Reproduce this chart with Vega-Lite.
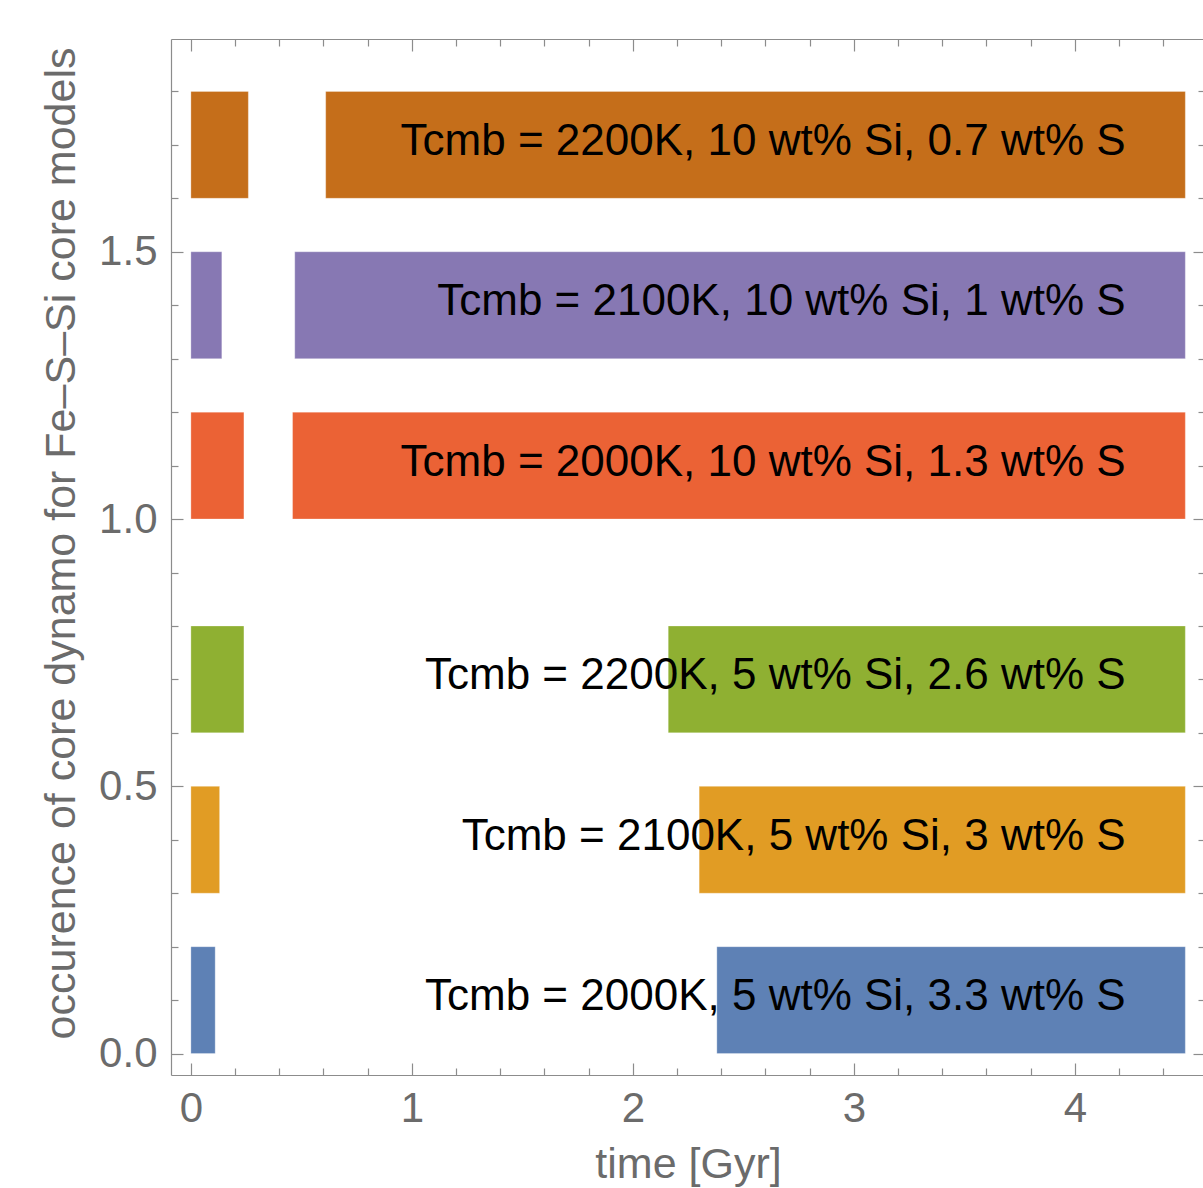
{
  "$schema": "https://vega.github.io/schema/vega-lite/v6.json",
  "width": 1034,
  "height": 1036,
  "autosize": {"type": "none"},
  "padding": {"left": 171, "top": 39, "right": 0, "bottom": 113},
  "background": "white",
  "config": {
    "view": {"stroke": null},
    "font": "Liberation Sans",
    "axis": {"grid": false, "domainColor": "#8c8c8c", "tickColor": "#8c8c8c", "domainWidth": 1.2, "tickWidth": 1.2, "labelColor": "#6b6b6b", "titleColor": "#6b6b6b", "labelFont": "Liberation Sans", "titleFont": "Liberation Sans", "titleFontWeight": "normal"}
  },
  "datasets": {
    "bars": [
      {"model": "2000K, 5 wt% Si", "start": 0, "end": 0.11, "y0": 0.0, "y1": 0.2},
      {"model": "2000K, 5 wt% Si", "start": 2.38, "end": 4.5, "y0": 0.0, "y1": 0.2},
      {"model": "2100K, 5 wt% Si", "start": 0, "end": 0.13, "y0": 0.3, "y1": 0.5},
      {"model": "2100K, 5 wt% Si", "start": 2.3, "end": 4.5, "y0": 0.3, "y1": 0.5},
      {"model": "2200K, 5 wt% Si", "start": 0, "end": 0.24, "y0": 0.6, "y1": 0.8},
      {"model": "2200K, 5 wt% Si", "start": 2.16, "end": 4.5, "y0": 0.6, "y1": 0.8},
      {"model": "2000K, 10 wt% Si", "start": 0, "end": 0.24, "y0": 1.0, "y1": 1.2},
      {"model": "2000K, 10 wt% Si", "start": 0.46, "end": 4.5, "y0": 1.0, "y1": 1.2},
      {"model": "2100K, 10 wt% Si", "start": 0, "end": 0.14, "y0": 1.3, "y1": 1.5},
      {"model": "2100K, 10 wt% Si", "start": 0.47, "end": 4.5, "y0": 1.3, "y1": 1.5},
      {"model": "2200K, 10 wt% Si", "start": 0, "end": 0.26, "y0": 1.6, "y1": 1.8},
      {"model": "2200K, 10 wt% Si", "start": 0.61, "end": 4.5, "y0": 1.6, "y1": 1.8}
    ],
    "labels": [
      {"label": "Tcmb = 2000K, 5 wt% Si, 3.3 wt% S", "ymid": 0.1},
      {"label": "Tcmb = 2100K, 5 wt% Si, 3 wt% S", "ymid": 0.4},
      {"label": "Tcmb = 2200K, 5 wt% Si, 2.6 wt% S", "ymid": 0.7},
      {"label": "Tcmb = 2000K, 10 wt% Si, 1.3 wt% S", "ymid": 1.1},
      {"label": "Tcmb = 2100K, 10 wt% Si, 1 wt% S", "ymid": 1.4},
      {"label": "Tcmb = 2200K, 10 wt% Si, 0.7 wt% S", "ymid": 1.7}
    ]
  },
  "resolve": {"axis": {"x": "independent", "y": "independent"}},
  "layer": [
    {
      "data": {"name": "bars"},
      "mark": {"type": "rect", "stroke": "white", "strokeWidth": 0.6, "strokeOpacity": 0.5},
      "encoding": {
        "x": {"field": "start", "type": "quantitative", "scale": {"domain": [-0.09, 4.589], "nice": false, "zero": false},
          "axis": {"orient": "bottom", "title": "time [Gyr]", "values": [0, 1, 2, 3, 4], "format": "d", "ticks": false, "labelFontSize": 42, "labelPadding": 46, "labelBaseline": "alphabetic", "titleFontSize": 43, "titleY": 102, "titleBaseline": "alphabetic"}},
        "x2": {"field": "end"},
        "y": {"field": "y0", "type": "quantitative", "scale": {"domain": [-0.04, 1.898], "nice": false, "zero": false},
          "axis": {"orient": "left", "title": "occurence of core dynamo for Fe–S–Si core models", "values": [0, 0.5, 1, 1.5], "format": ".1f", "ticks": false, "labelFontSize": 42, "labelPadding": 14, "titleFontSize": 43, "titleAngle": 270, "titleX": -110, "titleY": 504, "titleAlign": "center", "titleBaseline": "middle"}},
        "y2": {"field": "y1"},
        "color": {"field": "model", "type": "nominal", "legend": null,
          "scale": {"domain": ["2000K, 5 wt% Si", "2100K, 5 wt% Si", "2200K, 5 wt% Si", "2000K, 10 wt% Si", "2100K, 10 wt% Si", "2200K, 10 wt% Si"],
            "range": ["#5E81B5", "#E19C24", "#8FB032", "#EB6235", "#8778B3", "#C56E1A"]}}
      }
    },
    {
      "data": {"name": "labels"},
      "mark": {"type": "text", "align": "right", "baseline": "middle", "fontSize": 44, "color": "black", "font": "Liberation Sans", "dy": -3},
      "encoding": {
        "x": {"datum": 4.23, "type": "quantitative", "axis": {"orient": "bottom", "title": null, "values": [0, 1, 2, 3, 4], "labels": false, "domain": false, "tickSize": -12}},
        "y": {"field": "ymid", "type": "quantitative", "axis": {"orient": "left", "title": null, "values": [0, 0.5, 1, 1.5], "labels": false, "domain": false, "tickSize": -12}},
        "text": {"field": "label"}
      }
    },
    {
      "data": {"name": "bars"},
      "mark": {"type": "rect", "opacity": 0},
      "encoding": {
        "x": {"field": "start", "type": "quantitative", "axis": {"orient": "bottom", "title": null, "values": [0.2, 0.4, 0.6, 0.8, 1.2, 1.4, 1.6, 1.8, 2.2, 2.4, 2.6, 2.8, 3.2, 3.4, 3.6, 3.8, 4.2, 4.4], "labels": false, "domain": false, "tickSize": -7}},
        "y": {"field": "y0", "type": "quantitative", "axis": {"orient": "left", "title": null, "values": [0.1, 0.2, 0.3, 0.4, 0.6, 0.7, 0.8, 0.9, 1.1, 1.2, 1.3, 1.4, 1.6, 1.7, 1.8], "labels": false, "domain": false, "tickSize": -7}}
      }
    },
    {
      "data": {"name": "bars"},
      "mark": {"type": "rect", "opacity": 0},
      "encoding": {
        "x": {"field": "start", "type": "quantitative", "axis": {"orient": "top", "title": null, "values": [0, 1, 2, 3, 4], "labels": false, "tickSize": -12}},
        "y": {"field": "y0", "type": "quantitative", "axis": {"orient": "right", "title": null, "values": [0, 0.5, 1, 1.5], "labels": false, "tickSize": -12}}
      }
    },
    {
      "data": {"name": "bars"},
      "mark": {"type": "rect", "opacity": 0},
      "encoding": {
        "x": {"field": "start", "type": "quantitative", "axis": {"orient": "top", "title": null, "values": [0.2, 0.4, 0.6, 0.8, 1.2, 1.4, 1.6, 1.8, 2.2, 2.4, 2.6, 2.8, 3.2, 3.4, 3.6, 3.8, 4.2, 4.4], "labels": false, "domain": false, "tickSize": -7}},
        "y": {"field": "y0", "type": "quantitative", "axis": {"orient": "right", "title": null, "values": [0.1, 0.2, 0.3, 0.4, 0.6, 0.7, 0.8, 0.9, 1.1, 1.2, 1.3, 1.4, 1.6, 1.7, 1.8], "labels": false, "domain": false, "tickSize": -7}}
      }
    }
  ]
}
